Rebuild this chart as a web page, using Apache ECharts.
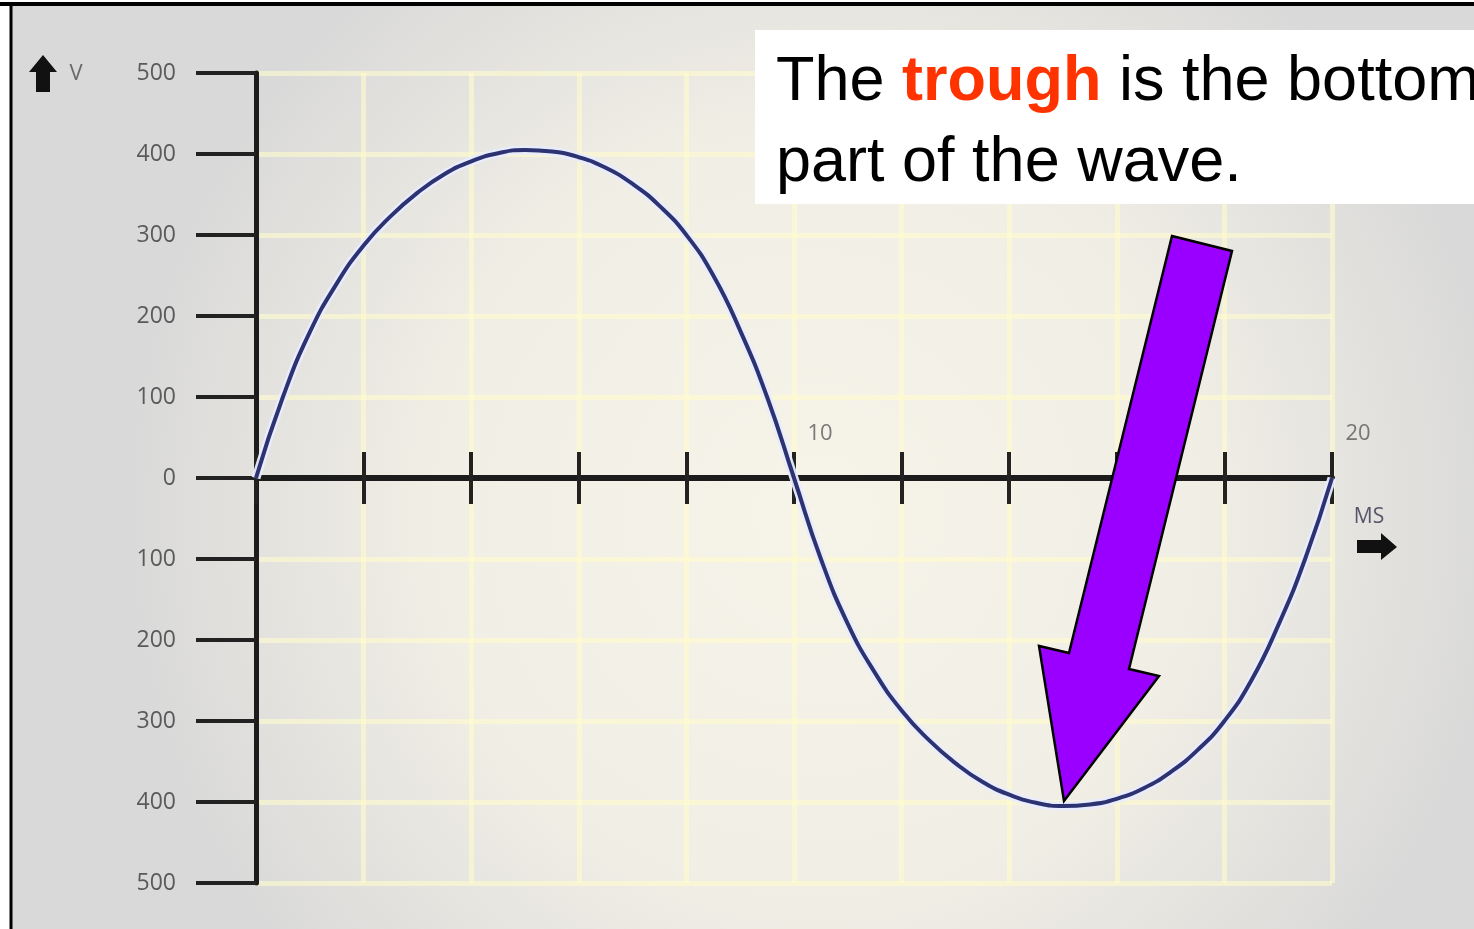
<!DOCTYPE html>
<html>
<head>
<meta charset="utf-8">
<script src="https://cdn.jsdelivr.net/npm/echarts@6/dist/echarts.min.js"></script>
<style>
  html, body { margin: 0; padding: 0; background: #fff; }
  #wave_chart { width: 1474px; height: 929px; }
</style>
</head>
<body>
<div id="wave_chart"></div>
<script>
// time in ms and voltage
const timeMs = [0, 0.5, 1, 1.5, 2, 2.5, 3, 3.5, 4, 4.5, 5, 5.5, 6, 6.5, 7, 7.5, 8, 8.5, 9, 9.5,
  10, 10.5, 11, 11.5, 12, 12.5, 13, 13.5, 14, 14.5, 15, 15.5, 16, 16.5, 17, 17.5, 18, 18.5, 19, 19.5, 20];
const voltage = [0, 100, 180, 240, 287, 323, 352, 375, 391, 401, 405, 403, 396, 383, 363, 336, 300, 250, 182, 100,
  0, -100, -180, -240, -287, -323, -352, -375, -391, -401, -405, -403, -396, -383, -363, -336, -300, -250, -182, -100, 0];
const xLabelTimes = [10, 20];
const xLabelsShown = ['10', '20'];
const wavePoints = timeMs.map((t, i) => [t, voltage[i]]);

const labelFont = '"Open Sans", "DejaVu Sans", sans-serif';
const paleGrid = 'rgba(255,252,205,0.6)';

var chart = echarts.init(document.getElementById('wave_chart'));

var option = {
  animation: false,
  grid: { left: 256, right: 142, top: 73, bottom: 46, containLabel: false },
  xAxis: [
    {
      type: 'value', min: 0, max: 20, interval: 2, position: 'bottom',
      axisLine: { show: true, onZero: true, onZeroAxisIndex: 0, lineStyle: { color: '#1c1c1c', width: 6 } },
      axisTick: { show: true, length: 26, lineStyle: { color: '#222', width: 4 } },
      axisLabel: { show: false },
      splitLine: { show: true, lineStyle: { color: paleGrid, width: 5 } }
    },
    {
      // second axis only to draw the upper half of the ticks
      type: 'value', min: 0, max: 20, interval: 2, position: 'top',
      axisLine: { show: false, onZero: true, onZeroAxisIndex: 0 },
      axisTick: { show: true, length: 26, lineStyle: { color: '#222', width: 4 } },
      axisLabel: { show: false },
      splitLine: { show: false }
    }
  ],
  yAxis: {
    type: 'value', min: -500, max: 500, interval: 100,
    axisLine: { show: true, onZero: false, lineStyle: { color: '#1c1c1c', width: 5 } },
    axisTick: { show: true, length: 60, lineStyle: { color: '#222', width: 4 } },
    axisLabel: {
      margin: 80, color: '#5a5a5a', fontSize: 23, fontFamily: labelFont,
      formatter: v => String(Math.abs(v))
    },
    splitLine: { show: true, lineStyle: { color: paleGrid, width: 5 } }
  },
  series: [
    {
      // pale halo under the wave
      type: 'line', data: wavePoints, smooth: true, showSymbol: false, silent: true,
      lineStyle: { color: 'rgba(232,236,255,0.95)', width: 9 }, z: 3
    },
    {
      type: 'line', data: wavePoints, smooth: true, showSymbol: false,
      lineStyle: { color: '#2c3370', width: 4 }, z: 4
    },
    {
      // the 10 and 20 labels sit above-right of their ticks
      type: 'scatter', xAxisIndex: 0, symbolSize: 0, silent: true,
      data: xLabelTimes.map(t => [t, 0]),
      label: {
        show: true, position: 'inside', offset: [26, -44],
        color: '#5a5a5a', fontSize: 22, fontFamily: labelFont,
        formatter: p => xLabelsShown[p.dataIndex]
      },
      z: 5
    }
  ],
  graphic: [
    {
      type: 'rect', z: -100, silent: true,
      shape: { x: 12, y: 5, width: 1462, height: 924 },
      style: {
        fill: {
          type: 'radial', x: 0.55, y: 0.55, r: 0.75,
          colorStops: [
            { offset: 0, color: '#f6f3e9' },
            { offset: 0.55, color: '#f1eee5' },
            { offset: 1, color: '#d9d9d9' }
          ]
        }
      }
    },
    { type: 'line', z: 50, shape: { x1: 0, y1: 4, x2: 1474, y2: 4 }, style: { stroke: '#000', lineWidth: 4 } },
    { type: 'line', z: 50, shape: { x1: 11, y1: 2, x2: 11, y2: 929 }, style: { stroke: '#000', lineWidth: 3 } },

    // V with up arrow
    {
      type: 'polygon', z: 20,
      shape: { points: [[29, 72], [43, 55], [57, 72], [50, 72], [50, 92], [36, 92], [36, 72]] },
      style: { fill: '#111' }
    },
    {
      type: 'text', z: 20, x: 76, y: 74,
      style: { text: 'V', font: '22px ' + labelFont, fill: '#6a6a6a', align: 'center', verticalAlign: 'middle' }
    },

    // MS with right arrow
    {
      type: 'text', z: 20, x: 1369, y: 517,
      style: { text: 'MS', font: '21px ' + labelFont, fill: '#56566a', align: 'center', verticalAlign: 'middle' }
    },
    {
      type: 'polygon', z: 20,
      shape: { points: [[1357, 540], [1381, 540], [1381, 533], [1397, 547], [1381, 560], [1381, 553], [1357, 553]] },
      style: { fill: '#111' }
    },

    // caption box
    {
      type: 'rect', z: 30, shape: { x: 755, y: 30, width: 719, height: 174 },
      style: { fill: '#fff' }
    },
    {
      type: 'text', z: 31, x: 776, y: 83,
      style: {
        text: 'The {b|trough} is the bottom',
        font: '63px "Liberation Sans", Arial, sans-serif', fill: '#000', verticalAlign: 'middle',
        rich: {
          b: { fontFamily: '"Liberation Sans", Arial, sans-serif', fontSize: 63, fontWeight: 'bold', fill: '#ff3300' }
        }
      }
    },
    {
      type: 'text', z: 31, x: 776, y: 164,
      style: {
        text: 'part of the wave.',
        font: '63px "Liberation Sans", Arial, sans-serif', fill: '#000', verticalAlign: 'middle'
      }
    },

    // purple arrow pointing at the trough
    {
      type: 'polygon', z: 40,
      shape: {
        points: [[1172, 236], [1232, 251], [1129, 669], [1159, 676], [1064, 801], [1039, 646], [1069, 653]]
      },
      style: { fill: '#9900ff', stroke: '#000', lineWidth: 2.5, lineJoin: 'miter' }
    }
  ]
};

chart.setOption(option);
window.addEventListener('resize', () => {
  chart.resize();
});
</script>
</body>
</html>
